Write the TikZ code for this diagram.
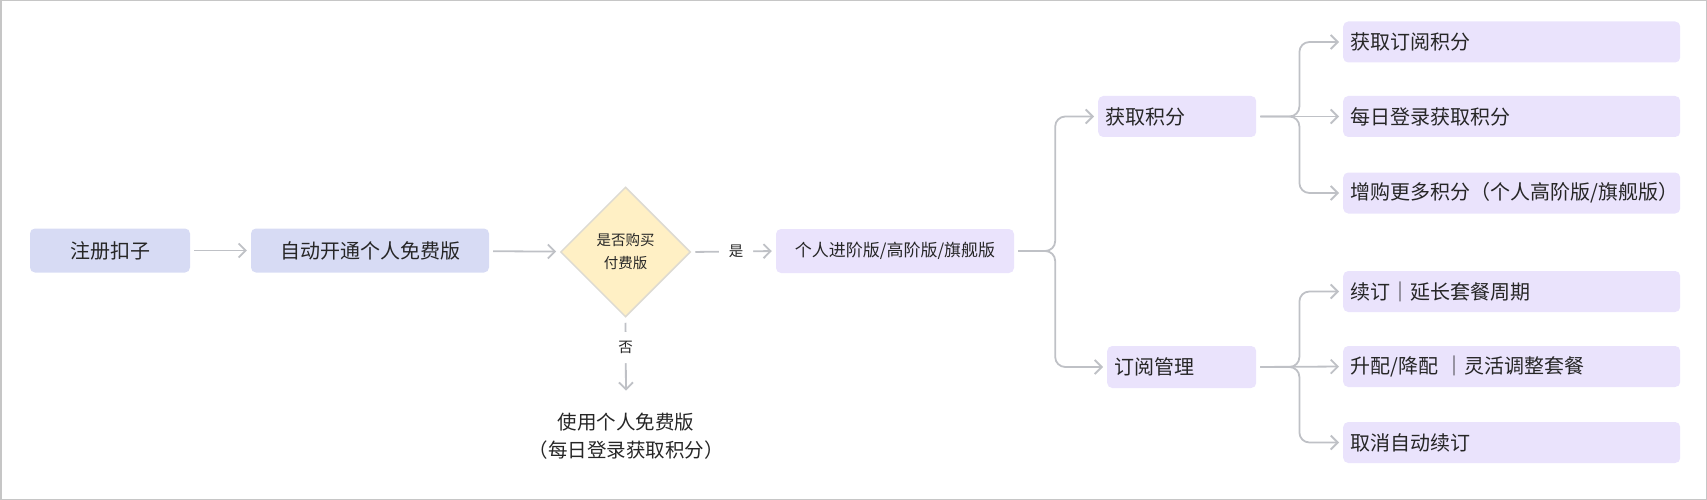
\documentclass[tikz,border=0pt]{standalone}
\usepackage{fontspec}
\newfontfamily\cjk{Noto Sans CJK SC}
\usetikzlibrary{shapes.geometric,arrows.meta}
\definecolor{bluebox}{HTML}{D7DBF4}
\definecolor{purplebox}{HTML}{EAE3FC}
\definecolor{dfill}{HTML}{FFF0C5}
\definecolor{dline}{HTML}{DDDAD2}
\definecolor{linec}{HTML}{BFC1C6}
\definecolor{txt}{HTML}{262626}
\definecolor{framec}{HTML}{C6C6C6}
\begin{document}
\begin{tikzpicture}[x=1pt,y=-1pt,
  every node/.style={text=txt},
  ftw/.style={font=\cjk\fontsize{20pt}{24pt}\selectfont},
  bbox/.style={ftw, fill=bluebox, rounded corners=5pt, inner sep=0pt, minimum height=44pt},
  pbox/.style={ftw, fill=purplebox, rounded corners=5pt, inner ysep=0pt, inner xsep=7pt, minimum height=41pt, anchor=west, align=left},
  conn/.style={draw=linec, line width=1.8pt, -{Straight Barb[length=7pt,width=14pt]}, shorten >=4pt, shorten <=4pt, rounded corners=10pt},
  lbl/.style={font=\cjk\fontsize{14.5pt}{17pt}\selectfont, fill=white, inner sep=0pt, minimum width=34pt, minimum height=31pt}
]
\useasboundingbox (0,0) rectangle (1707,500);
\draw[draw=framec, line width=1.5pt] (0.75,0.75) rectangle (1706.25,499.25);

\node[bbox, minimum width=160pt] (a) at (110,250.5) {注册扣子};
\node[bbox, minimum width=238pt] (b) at (370,250.5) {自动开通个人免费版};
\node[diamond, aspect=1, fill=dfill, draw=dline, line width=1.5pt, minimum width=130pt, minimum height=130pt, inner sep=0pt, align=center, font=\cjk\fontsize{14.5pt}{23pt}\selectfont] (d) at (625.5,252) {是否购买\\付费版};
\node[bbox, fill=purplebox, minimum width=238pt, font=\cjk\fontsize{17pt}{20pt}\selectfont] (c) at (895,251) {个人进阶版/高阶版/旗舰版};
\node[font=\cjk\fontsize{19.5pt}{28pt}\selectfont, align=center, inner xsep=0pt, inner ysep=18pt] (e) at (626,436) {使用个人免费版\\（每日登录获取积分）};

\node[pbox, text width=144pt] (g1) at (1098,116.5) {获取积分};
\node[pbox, text width=135pt, minimum height=42pt] (g2) at (1107,367) {订阅管理};

\node[pbox, text width=323pt] (h1) at (1343,42) {获取订阅积分};
\node[pbox, text width=323pt] (h2) at (1343,116.5) {每日登录获取积分};
\node[pbox, text width=323pt] (h3) at (1343,193) {\mbox{增购更多积分（个人高阶版/旗舰版）}};
\node[pbox, text width=323pt] (h4) at (1343,291.5) {续订｜延长套餐周期};
\node[pbox, text width=323pt] (h5) at (1343,366.5) {升配/降配 ｜灵活调整套餐};
\node[pbox, text width=323pt] (h6) at (1343,442.5) {取消自动续订};

\draw[conn] (a) -- (b);
\draw[conn] (b) -- (d);
\draw[conn] (d.east) -- node[lbl, pos=0.53]{是} (c.west);
\draw[conn, shorten <=5pt] (d.south) -- node[lbl, pos=0.39]{否} (e.north);

\draw[conn] (c.east) -- ++(41,0) |- (g1.west);
\draw[conn] (c.east) -- ++(41,0) |- (g2.west);

\draw[conn] (g1.east) -- ++(43,0) |- (h1.west);
\draw[conn] (g1.east) -- (h2.west);
\draw[conn] (g1.east) -- ++(43,0) |- (h3.west);
\draw[conn] (g2.east) -- ++(43,0) |- (h4.west);
\draw[conn] (g2.east) -- (h5.west);
\draw[conn] (g2.east) -- ++(43,0) |- (h6.west);
\end{tikzpicture}
\end{document}
